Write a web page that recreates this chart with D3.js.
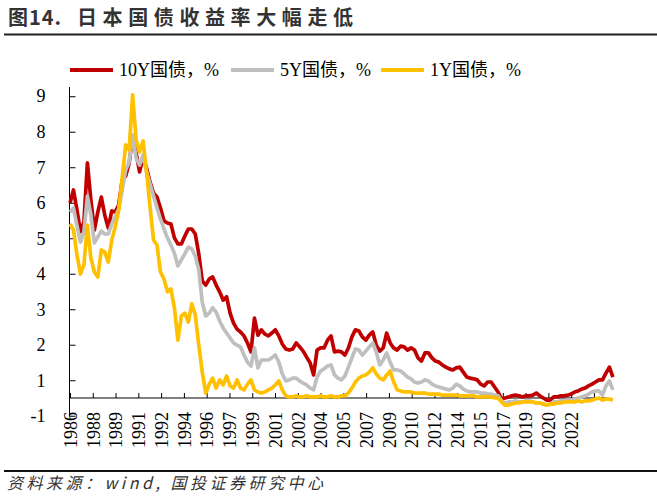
<!DOCTYPE html>
<html><head><meta charset="utf-8">
<script src="https://cdn.jsdelivr.net/npm/d3@7"></script>
<style>
html,body{margin:0;padding:0;background:#fff;}
svg{display:block;}
</style></head>
<body>
<script>
// ---- data ----
const startYear = 1986.35;          // first observation (quarterly series)
const periodStep = 0.25;            // quarterly
const yield10Y = [5.49,5.86,5.30,4.68,4.96,6.62,5.58,4.73,5.24,5.66,
5.15,4.79,5.27,5.24,5.44,6.14,6.25,6.62,7.35,6.90,
6.37,6.79,6.48,6.08,5.77,5.66,5.35,4.99,4.93,4.90,
4.51,4.34,4.34,4.56,4.76,4.76,4.62,4.06,3.30,3.18,
3.35,3.41,3.18,2.99,2.76,2.85,2.39,2.11,1.94,1.86,
1.75,1.55,1.30,2.25,1.77,1.92,1.80,1.75,1.83,1.92,
1.75,1.52,1.38,1.35,1.38,1.55,1.44,1.32,1.15,0.99,
0.65,1.35,1.41,1.41,1.63,1.75,1.30,1.32,1.30,1.21,
1.41,1.72,1.92,1.89,1.72,1.63,1.77,1.86,1.49,1.32,
1.41,1.83,1.55,1.41,1.35,1.46,1.44,1.35,1.41,1.35,
1.13,1.04,1.27,1.27,1.13,1.04,1.01,0.93,0.87,0.82,
0.79,0.85,0.87,0.73,0.59,0.56,0.54,0.51,0.39,0.34,
0.45,0.45,0.31,0.17,-0.03,0.00,0.03,0.06,0.08,0.06,
0.03,0.06,0.06,0.08,0.14,0.06,0.00,-0.06,-0.06,0.03,
0.03,0.06,0.06,0.08,0.11,0.17,0.20,0.25,0.28,0.34,
0.39,0.45,0.51,0.51,0.70,0.87,0.59];
const yield5Y = [5.24,5.35,4.85,4.39,4.68,5.69,5.15,4.37,4.54,4.70,
4.62,4.62,4.90,5.10,5.32,5.86,6.42,6.65,7.41,6.76,
6.56,6.85,6.37,6.03,5.69,5.35,5.04,4.76,4.51,4.31,
4.08,3.72,3.89,4.06,4.25,4.20,4.00,3.61,2.70,2.31,
2.39,2.54,2.42,2.17,1.97,1.83,1.69,1.55,1.49,1.44,
1.21,1.01,0.90,1.41,0.85,1.07,1.07,1.07,1.13,1.21,
1.01,0.68,0.48,0.51,0.56,0.56,0.48,0.42,0.37,0.28,
0.23,0.59,0.76,0.82,0.90,0.93,0.65,0.56,0.51,0.62,
0.87,1.13,1.38,1.35,1.21,1.32,1.44,1.55,1.30,0.93,
1.07,1.27,1.01,0.79,0.79,0.76,0.68,0.59,0.54,0.45,
0.42,0.45,0.51,0.48,0.39,0.34,0.31,0.28,0.25,0.23,
0.28,0.39,0.34,0.25,0.20,0.17,0.17,0.17,0.14,0.14,
0.11,0.11,0.08,0.06,-0.08,-0.14,-0.11,-0.11,-0.08,-0.11,
-0.11,-0.08,-0.08,-0.11,-0.14,-0.14,-0.17,-0.20,-0.17,-0.11,
-0.11,-0.08,-0.08,-0.06,-0.06,-0.03,0.00,0.03,0.06,0.11,
0.17,0.20,0.20,0.08,0.34,0.48,0.23];
const yield1Y = [4.90,4.73,4.03,3.49,3.75,4.87,3.94,3.55,3.41,4.17,
4.11,3.83,4.45,4.82,5.30,6.20,7.13,6.99,8.54,7.27,
6.93,7.24,6.37,5.38,4.45,4.31,3.55,3.35,2.99,3.07,
2.54,1.63,2.31,2.39,2.14,2.65,2.34,1.49,0.73,0.14,
0.39,0.56,0.28,0.51,0.37,0.62,0.34,0.28,0.51,0.28,
0.23,0.39,0.51,0.23,0.17,0.14,0.17,0.23,0.28,0.37,
0.48,0.23,0.06,0.03,0.03,0.06,0.03,0.03,0.06,0.03,
0.03,0.03,0.06,0.03,0.03,0.06,0.03,0.03,0.06,0.06,
0.14,0.28,0.45,0.56,0.62,0.65,0.73,0.85,0.68,0.56,
0.51,0.65,0.76,0.45,0.23,0.20,0.17,0.17,0.17,0.14,
0.14,0.14,0.14,0.11,0.11,0.11,0.11,0.08,0.08,0.08,
0.08,0.08,0.06,0.06,0.06,0.06,0.06,0.03,0.03,0.03,
0.03,0.03,0.00,0.00,-0.11,-0.20,-0.20,-0.17,-0.14,-0.14,
-0.11,-0.11,-0.11,-0.11,-0.14,-0.14,-0.17,-0.20,-0.17,-0.17,
-0.14,-0.14,-0.11,-0.11,-0.11,-0.11,-0.08,-0.11,-0.08,-0.08,
-0.06,-0.03,0.00,-0.06,-0.03,-0.03,-0.06];
const seriesNames = ["10Y国债，%","5Y国债，%","1Y国债，%"];
const seriesColors = ["#C00000","#BFBFBF","#FFC000"];
const xTickLabels = ["1986","1988","1989","1991","1992","1994","1996","1997","1999","2001","2002","2004",
  "2005","2007","2009","2010","2012","2014","2015","2017","2019","2020","2022",""];
const xTickInterval = 18/11;        // years between category labels
const yTickValues = [-0.5,0.5,1.5,2.5,3.5,4.5,5.5,6.5,7.5,8.5];
const yTickLabels = ["-1","1","2","3","4","5","6","7","8","9"];
const titleNumber = "图14.";
const titleText = "日本国债收益率大幅走低";
const sourceText = "资料来源：wind, 国投证券研究中心";

// ---- chart ----
const W = 657, H = 496;
const svg = d3.select("body").append("svg").attr("width", W).attr("height", H);

const dates = yield10Y.map((_, i) => startYear + i * periodStep);
const x = d3.scaleLinear().domain([startYear, dates[dates.length - 1]]).range([70, 612.9]);
const y = d3.scaleLinear().domain([-0.5, 8.76]).range([415.75, 87]);

// title
const title = svg.append("text").attr("y", 25)
  .attr("font-family", "'Noto Sans CJK SC', sans-serif").attr("font-weight", "bold")
  .attr("font-size", 20).attr("fill", "#333");
title.append("tspan").attr("x", 8).attr("letter-spacing", 1).text(titleNumber);
title.append("tspan").attr("x", 77).attr("letter-spacing", 5.6).text(titleText);
svg.append("line").attr("x1", 4).attr("x2", W).attr("y1", 34.5).attr("y2", 34.5)
  .attr("stroke", "#222").attr("stroke-width", 2);

// footer
svg.append("line").attr("x1", 4).attr("x2", W).attr("y1", 471).attr("y2", 471)
  .attr("stroke", "#111").attr("stroke-width", 2);
svg.append("text").attr("x", 7).attr("y", 489)
  .attr("font-family", "'Noto Sans CJK SC', sans-serif").attr("font-style", "italic")
  .attr("font-size", 16).attr("letter-spacing", 3.5).attr("fill", "#333").text(sourceText);

// axes
const yAxis = d3.axisLeft(y).tickValues(yTickValues).tickFormat((d, i) => yTickLabels[i])
  .tickSize(-6).tickPadding(24);
const gy = svg.append("g").attr("transform", `translate(${x(startYear) - 0.5},0)`).call(yAxis);
gy.select(".domain").attr("d", `M0,${y(-0.5)}V${y(8.76)}`).attr("stroke", "#000");
gy.selectAll("line").attr("stroke", "#000");
gy.selectAll("text").attr("font-family", "'Liberation Serif', serif").attr("font-size", 18).attr("fill", "#000");

const xTickValues = xTickLabels.map((_, k) => startYear + k * xTickInterval);
const xAxis = d3.axisBottom(x).tickValues(xTickValues).tickFormat((d, i) => xTickLabels[i])
  .tickSize(-5).tickSizeOuter(0);
const gx = svg.append("g").attr("transform", `translate(0,${y(0)})`).call(xAxis);
gx.select(".domain").attr("d", `M${x(startYear) - 0.5},0H607`).attr("stroke", "#000");
gx.selectAll("line").attr("stroke", "#000");
gx.selectAll("text").attr("transform", "rotate(-90)").attr("x", -14).attr("y", 0).attr("dy", "0.35em")
  .attr("text-anchor", "end").attr("font-family", "'Liberation Serif', serif").attr("font-size", 18).attr("fill", "#000");

// lines
const allSeries = [yield10Y, yield5Y, yield1Y];
const line = d3.line().x((d, i) => x(dates[i])).y(d => y(d));
allSeries.forEach((s, k) => {
  svg.append("path").datum(s).attr("d", line).attr("fill", "none")
    .attr("stroke", seriesColors[k]).attr("stroke-width", 3.7).attr("stroke-linejoin", "round");
});

// legend
const legendX = [70, 231, 381];
seriesNames.forEach((name, k) => {
  const g = svg.append("g").attr("transform", `translate(${legendX[k]},70)`);
  g.append("line").attr("x1", 0).attr("x2", 43).attr("stroke", seriesColors[k]).attr("stroke-width", 4);
  g.append("text").attr("x", 49).attr("dy", "0.35em")
    .attr("font-family", "'Liberation Serif', 'Noto Sans CJK SC', serif").attr("font-size", 18)
    .attr("fill", "#000").text(name);
});
</script>
</body></html>
